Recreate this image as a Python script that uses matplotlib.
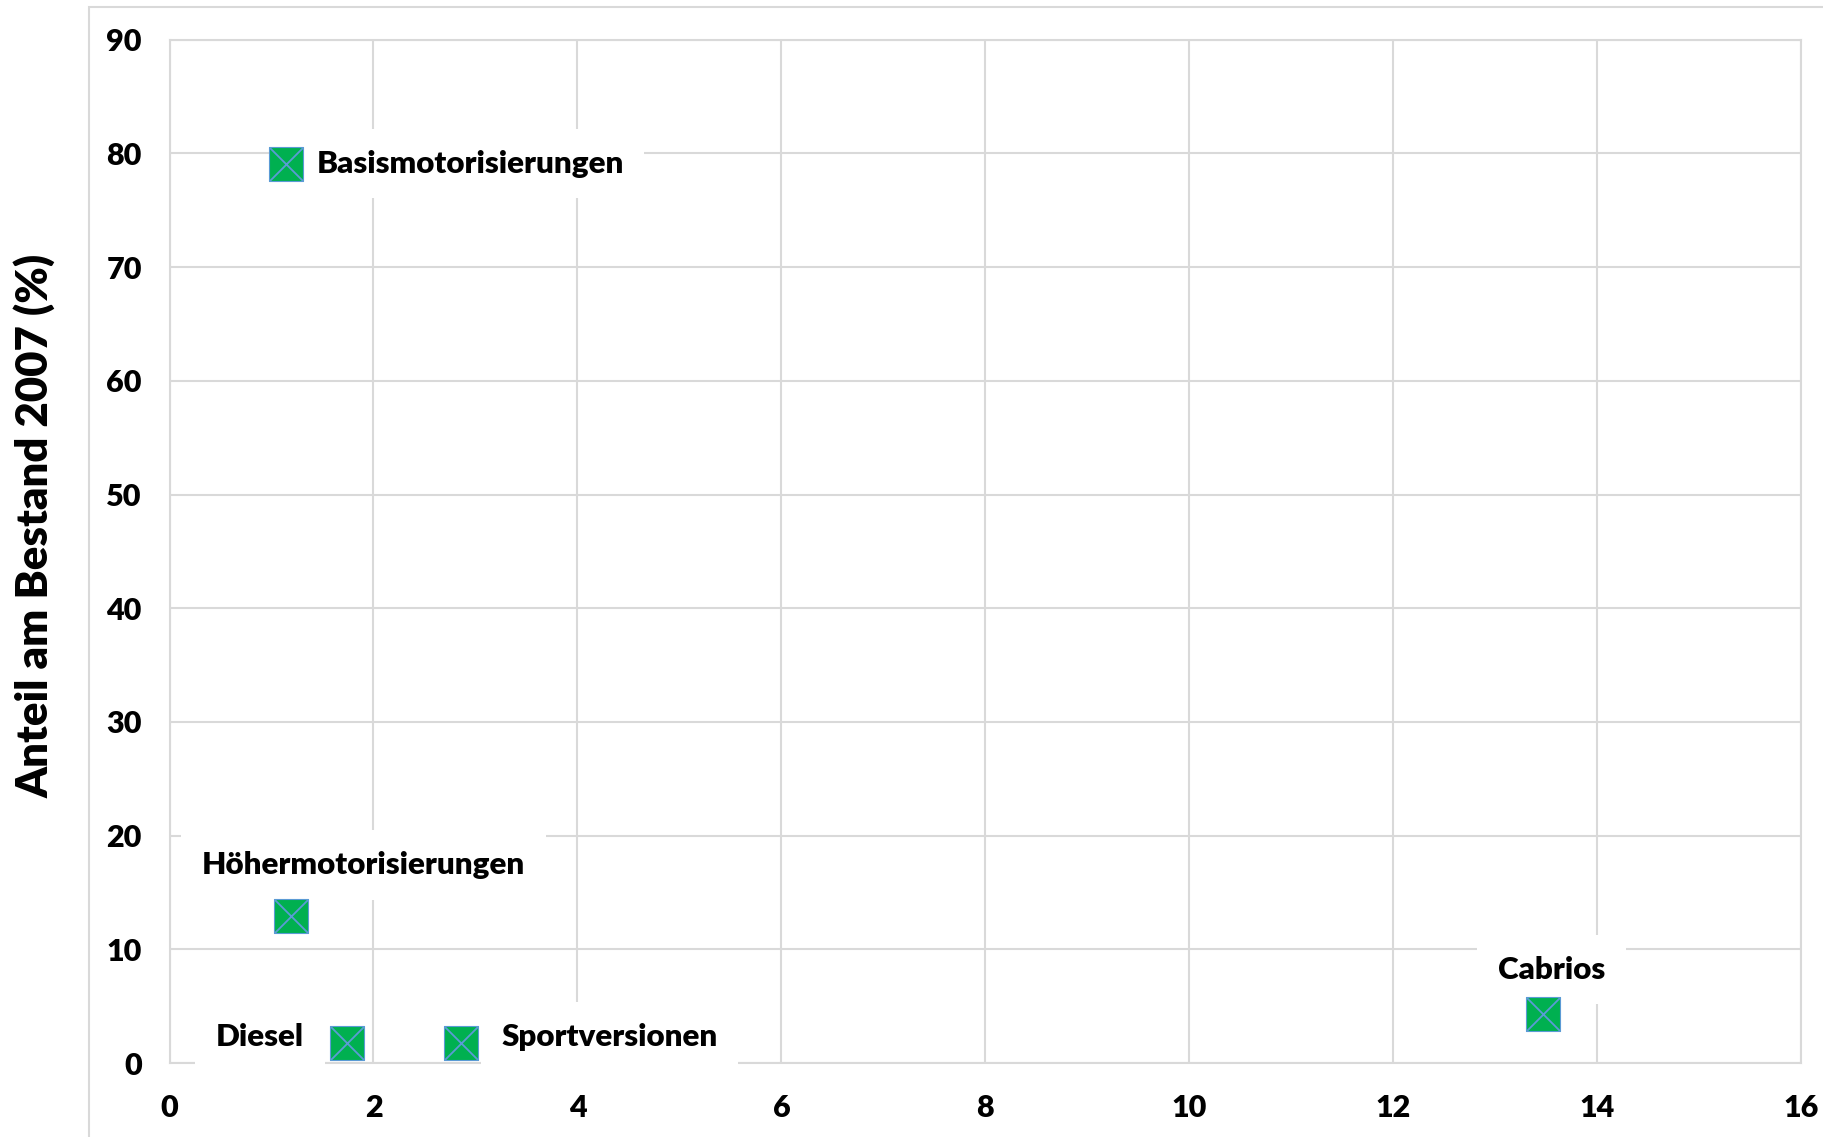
import matplotlib
matplotlib.use("Agg")
import matplotlib.pyplot as plt
from matplotlib.patches import Rectangle

# Anteil-Daten je Fahrzeugsegment
labels = ["Basismotorisierungen", "Höhermotorisierungen", "Diesel",
          "Sportversionen", "Cabrios"]
x_vals = [1.14, 1.19, 1.74, 2.86, 13.47]
y_vals = [79.1, 12.9, 1.8, 1.8, 4.3]

# label placement: (dx, dy) in points, horizontal alignment
label_off = [(22, 0, "left"), (-64, 37, "left"), (-31, 4, "right"),
             (29, 4, "left"), (6, 32, "center")]

x_ticks = list(range(0, 17, 2))
y_ticks = list(range(0, 91, 10))
y_label = "Anteil am Bestand 2007 (%)"

GREEN = "#00B050"
CROSS = "#5B9BD5"
GRID = "#D9D9D9"
WEIGHT = "heavy"

plt.rcParams["font.family"] = ["Lato", "DejaVu Sans"]

fig = plt.figure(figsize=(18.23, 11.37), dpi=100)
ax = fig.add_axes([0.093, 0.065, 0.895, 0.900])

# outer chart-area frame
fig.patches.append(Rectangle((0.049, -0.05), 1.0, 1.044, transform=fig.transFigure,
                             fill=False, edgecolor=GRID, lw=1.5, zorder=0))

ax.set_xlim(0, 16)
ax.set_ylim(0, 90)
ax.set_xticks(x_ticks)
ax.set_yticks(y_ticks)
ax.tick_params(length=0, labelsize=22)
ax.tick_params(axis="y", pad=20)
ax.tick_params(axis="x", pad=22)
for t in ax.get_xticklabels() + ax.get_yticklabels():
    t.set_fontweight(WEIGHT)
ax.grid(True, color=GRID, lw=1.5, zorder=0)
ax.set_axisbelow(True)
for s in ax.spines.values():
    s.set_color(GRID)
    s.set_linewidth(1.5)

ax.set_ylabel(y_label, fontsize=31.5, fontweight=WEIGHT, va="center")
ax.yaxis.set_label_coords(-0.083, 0.525)

ax.scatter(x_vals, y_vals, marker="s", s=580, color=GREEN,
           edgecolor=CROSS, linewidths=0.8, zorder=5)
ax.scatter(x_vals, y_vals, marker="x", s=580, color=CROSS,
           linewidths=1.3, zorder=6)

box = dict(facecolor="white", edgecolor="none", pad=15)
for lab, xv, yv, (dx, dy, ha) in zip(labels, x_vals, y_vals, label_off):
    ax.annotate(lab, (xv, yv), xytext=(dx, dy), textcoords="offset points",
                ha=ha, va="center", fontsize=22.6, fontweight=WEIGHT,
                bbox=box, zorder=4)

fig.savefig("out.png", dpi=100)
